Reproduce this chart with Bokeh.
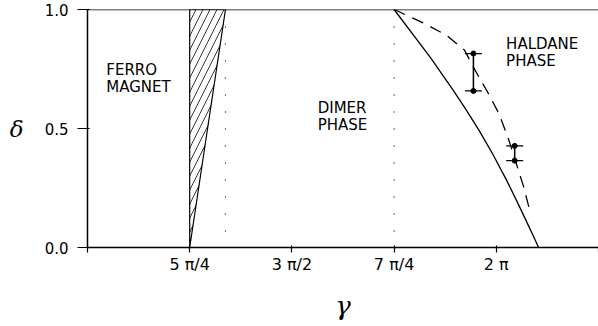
from bokeh.plotting import figure
from bokeh.models import Range1d, FixedTicker, Span, Whisker, ColumnDataSource, TeeHead
from bokeh.core.properties import value
from bokeh.embed import file_html
from bokeh.resources import INLINE

# gamma expressed in units of pi
x_ticks = [1.0, 1.25, 1.5, 1.75, 2.0, 2.25]
x_tick_labels = ["", "5 π/4", "3 π/2", "7 π/4", "2 π", ""]
y_ticks = [0.0, 0.5, 1.0]
y_tick_labels = ["0.0", "0.5", "1.0"]

# hatched ferromagnet boundary region
ferro_x = [1.25, 1.25, 1.3375]
ferro_y = [0.0, 1.0, 1.0]

# dotted vertical lines
dotted_x = [1.3375, 1.75]

# solid phase boundary
solid_x = [1.75, 1.839, 1.8948, 1.9271, 1.9579, 1.9912, 2.0254, 2.0614, 2.0844, 2.1035]
solid_y = [1.0, 0.798, 0.660, 0.576, 0.492, 0.393, 0.282, 0.155, 0.071, 0.0]

# dashed phase boundary
dash_x = [1.75, 1.822, 1.878, 1.922, 1.949, 1.980, 2.007, 2.030, 2.066, 2.082]
dash_y = [1.0, 0.943, 0.892, 0.830, 0.742, 0.649, 0.561, 0.455, 0.260, 0.155]

# error bars
err_x = [1.944, 2.045]
err_lo = [0.658, 0.365]
err_hi = [0.815, 0.427]

# region labels
label_x = [1.046, 1.046, 1.563, 1.563, 2.024, 2.024]
label_y = [0.783, 0.711, 0.623, 0.551, 0.893, 0.821]
label_text = ["FERRO", "MAGNET", "DIMER", "PHASE", "HALDANE", "PHASE"]

FONT = "DejaVu Sans"

p = figure(width=598, height=326, output_backend="svg", toolbar_location=None,
           x_range=Range1d(1.0, 2.25), y_range=Range1d(0.0, 1.0),
           min_border_left=87, min_border_right=0, min_border_top=9, min_border_bottom=79)
p.xgrid.visible = False
p.ygrid.visible = False
p.outline_line_color = None
p.background_fill_color = "white"
p.border_fill_color = "white"

# axes
p.xaxis.ticker = FixedTicker(ticks=x_ticks)
p.xaxis.major_label_overrides = {t: l for t, l in zip(x_ticks, x_tick_labels)}
p.yaxis.ticker = FixedTicker(ticks=y_ticks)
p.yaxis.major_label_overrides = {t: l for t, l in zip(y_ticks, y_tick_labels)}
for ax in (p.xaxis, p.yaxis):
    ax.axis_line_color = "black"
    ax.axis_line_width = 1.5
    ax.major_tick_line_color = "black"
    ax.major_tick_line_width = 1.2
    ax.minor_tick_line_color = None
    ax.major_label_text_font = FONT
    ax.major_label_text_color = "black"
    ax.axis_label_text_color = "black"
p.xaxis.major_tick_out = 5
p.xaxis.major_tick_in = 2
p.xaxis.major_label_text_font_size = "16px"
p.xaxis.major_label_standoff = 2
p.xaxis.axis_label = "γ"
p.xaxis.axis_label_text_font = "DejaVu Serif"
p.xaxis.axis_label_text_font_style = "italic"
p.xaxis.axis_label_text_font_size = "26px"
p.xaxis.axis_label_standoff = 14

p.yaxis.major_tick_out = 10
p.yaxis.major_tick_in = 2
p.yaxis.major_label_text_font_size = "15px"
p.yaxis.major_label_standoff = 9
p.yaxis.axis_label = "δ"
p.yaxis.axis_label_orientation = "horizontal"
p.yaxis.axis_label_text_font = "DejaVu Serif"
p.yaxis.axis_label_text_font_style = "italic"
p.yaxis.axis_label_text_font_size = "23px"
p.yaxis.axis_label_standoff = 18

# top frame line
p.add_layout(Span(location=1.0, dimension="width", line_color="black", line_width=1.5))

# hatched region
p.patch(ferro_x, ferro_y, fill_color=None, line_color="black", line_width=1.2,
        hatch_pattern="/", hatch_color="black", hatch_scale=14, hatch_weight=0.8)

# dotted verticals
for xv in dotted_x:
    p.add_layout(Span(location=xv, dimension="height", line_color="black",
                      line_width=1.2, line_dash="1 16"))

# solid boundary
p.line(solid_x, solid_y, line_color="black", line_width=1.3)
# dashed boundary
p.line(dash_x, dash_y, line_color="black", line_width=1.3, line_dash="12 8")

# error bars
src = ColumnDataSource(dict(x=err_x, lo=err_lo, hi=err_hi))
p.add_layout(Whisker(source=src, base="x", lower="lo", upper="hi", dimension="height",
                     line_color="black", line_width=1.5,
                     upper_head=TeeHead(size=17, line_color="black", line_width=1.3),
                     lower_head=TeeHead(size=17, line_color="black", line_width=1.3)))
p.scatter(err_x + err_x, err_lo + err_hi, size=5, color="black")

# region labels
p.text(x=label_x, y=label_y, text=label_text, text_font=value(FONT),
       text_font_size="15px", text_baseline="top", text_align="left", text_color="black")

open("out.html", "w").write(file_html(p, INLINE))
